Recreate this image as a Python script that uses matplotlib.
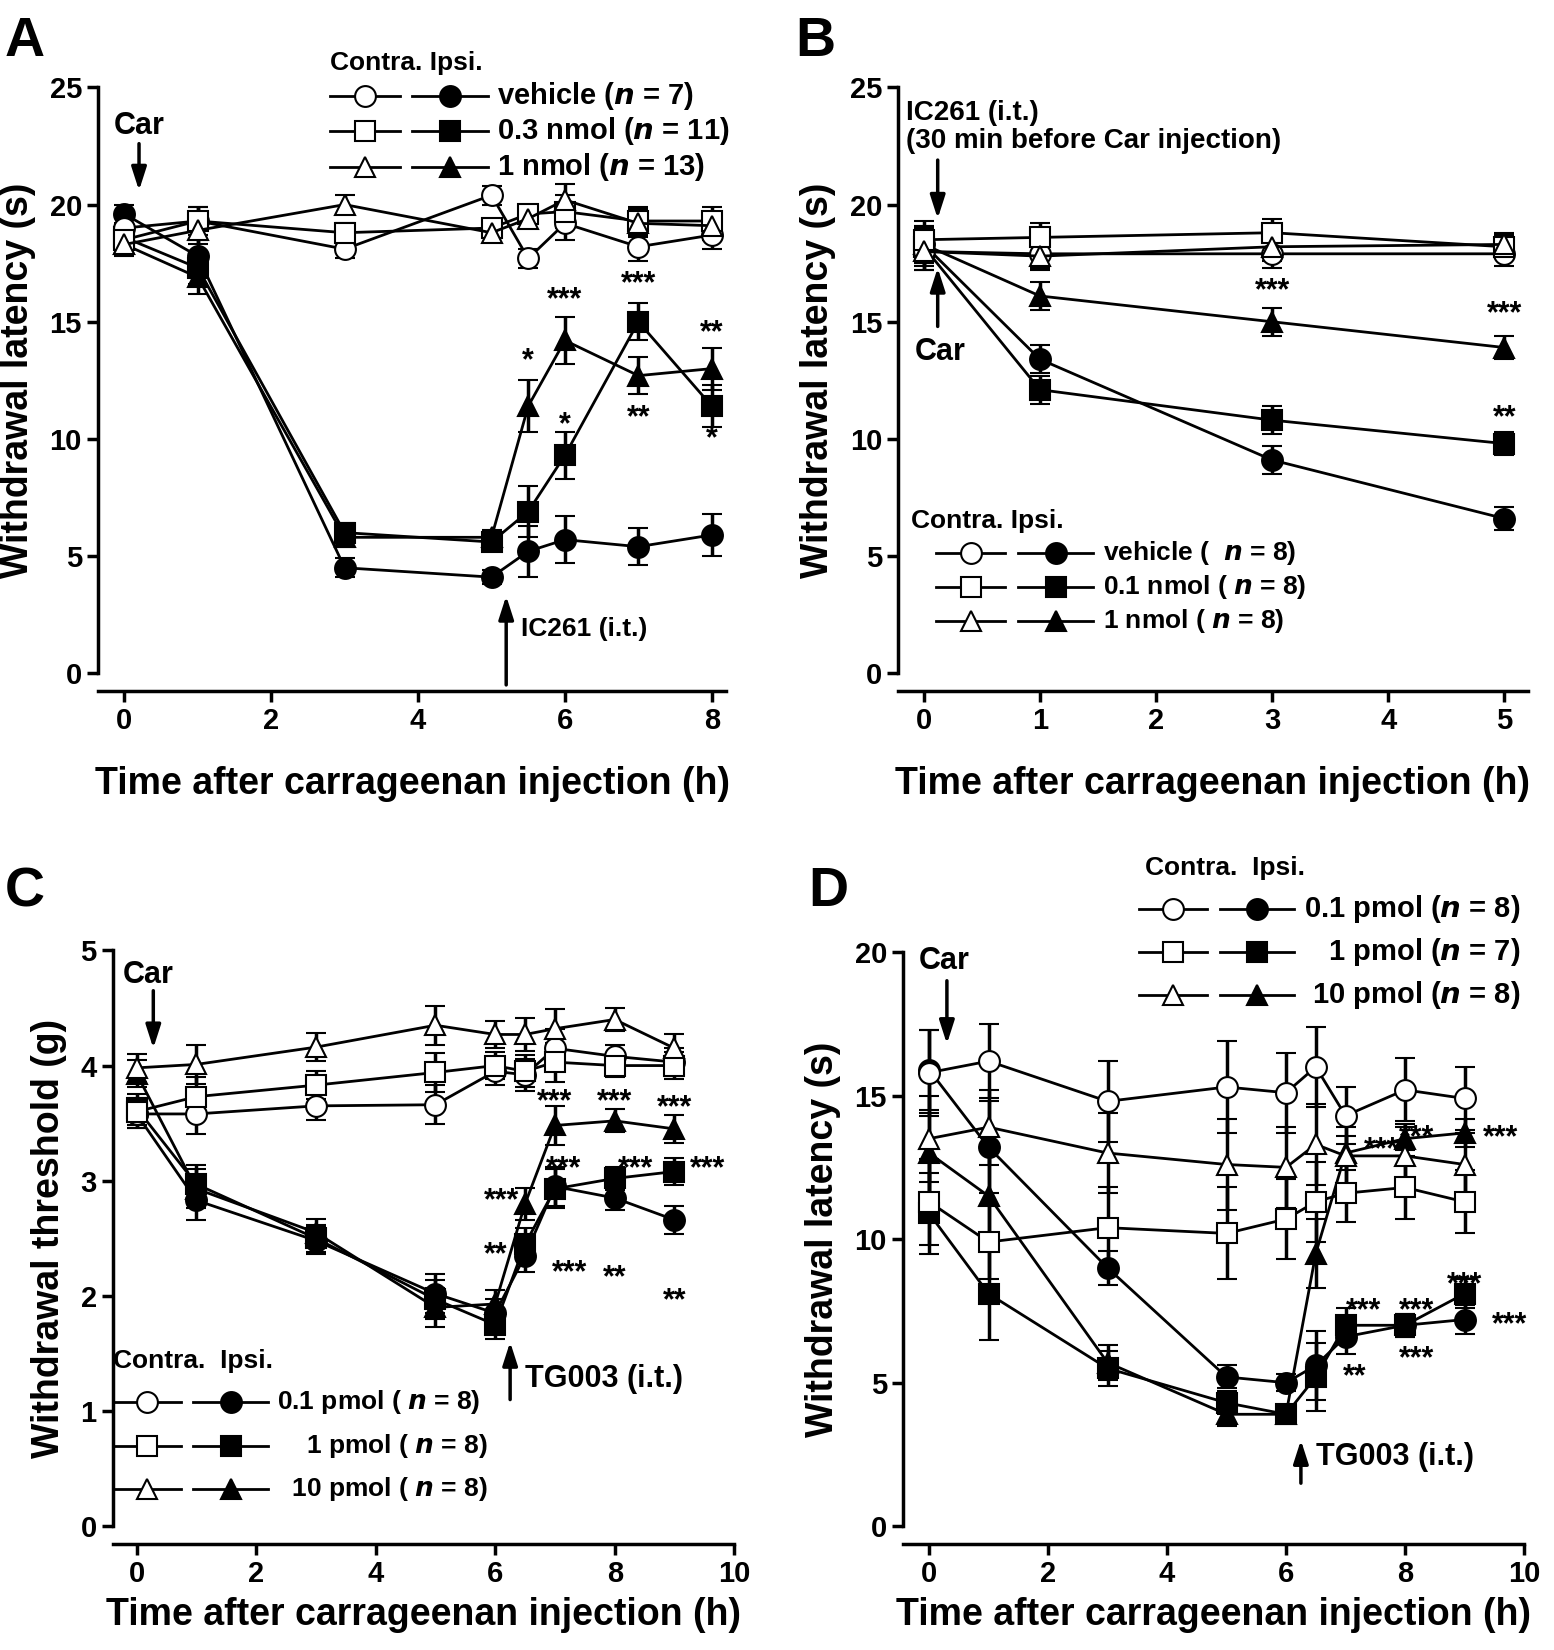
import matplotlib
matplotlib.use("Agg")
import matplotlib.pyplot as plt
from matplotlib.lines import Line2D

plt.rcParams['font.family'] = ['Liberation Sans', 'DejaVu Sans']
plt.rcParams['font.weight'] = 'bold'

# ---------- data ----------
xA = [0, 1, 3, 5, 5.5, 6, 7, 8]
A_veh_c = [19.0, 19.3, 18.1, 20.4, 17.7, 19.2, 18.2, 18.7]
A_03_c = [18.5, 19.3, 18.8, 19.0, 19.6, 19.7, 19.3, 19.3]
A_1_c = [18.3, 18.9, 20.0, 18.8, 19.4, 20.2, 19.2, 19.1]
A_veh_i = [19.6, 17.8, 4.5, 4.1, 5.2, 5.7, 5.4, 5.9]
A_03_i = [18.6, 17.3, 6.0, 5.6, 6.9, 9.3, 15.0, 11.4]
A_1_i = [18.3, 16.9, 5.8, 5.8, 11.4, 14.2, 12.7, 13.0]
A_err_c = [0.5, 0.6, 0.4, 0.4, 0.4, 0.7, 0.6, 0.6]
A_err_i = [0.4, 0.7, 0.4, 0.3, 1.1, 1.0, 0.8, 0.9]

xB = [0, 1, 3, 5]
B_veh_c = [18.0, 17.9, 17.9, 17.9]
B_01_c = [18.5, 18.6, 18.8, 18.2]
B_1_c = [18.0, 17.8, 18.2, 18.3]
B_veh_i = [18.3, 13.4, 9.1, 6.6]
B_01_i = [18.2, 12.1, 10.8, 9.8]
B_1_i = [18.3, 16.1, 15.0, 13.9]
B_err = [0.8, 0.6, 0.6, 0.5]

xC = [0, 1, 3, 5, 6, 6.5, 7, 8, 9]
C_01_c = [3.58, 3.58, 3.65, 3.66, 3.95, 3.92, 4.15, 4.08, 4.03]
C_1_c = [3.60, 3.73, 3.83, 3.94, 4.00, 3.95, 4.03, 4.00, 4.00]
C_10_c = [3.98, 4.01, 4.16, 4.35, 4.27, 4.27, 4.32, 4.40, 4.15]
C_01_i = [3.58, 2.83, 2.48, 2.02, 1.85, 2.35, 2.95, 2.85, 2.66]
C_1_i = [3.63, 2.97, 2.50, 1.97, 1.75, 2.45, 2.93, 3.02, 3.08]
C_10_i = [3.93, 2.93, 2.55, 1.90, 1.93, 2.80, 3.48, 3.52, 3.45]
C_err = [0.12, 0.17, 0.12, 0.17, 0.12, 0.14, 0.17, 0.1, 0.12]

xD = [0, 1, 3, 5, 6, 6.5, 7, 8, 9]
D_01_c = [15.8, 16.2, 14.8, 15.3, 15.1, 16.0, 14.3, 15.2, 14.9]
D_1_c = [11.3, 9.9, 10.4, 10.2, 10.7, 11.3, 11.6, 11.8, 11.3]
D_10_c = [13.5, 13.9, 13.0, 12.6, 12.5, 13.3, 12.9, 12.9, 12.6]
D_01_i = [15.9, 13.2, 9.0, 5.2, 5.0, 5.6, 6.6, 7.0, 7.2]
D_1_i = [10.9, 8.1, 5.5, 4.3, 3.9, 5.2, 7.0, 7.0, 8.1]
D_10_i = [13.0, 11.5, 5.7, 3.9, 3.9, 9.5, 13.0, 13.5, 13.7]
D_err_c = [1.5, 1.3, 1.4, 1.6, 1.4, 1.4, 1.0, 1.1, 1.1]
D_err_i = [1.4, 1.6, 0.6, 0.4, 0.3, 1.2, 0.6, 0.4, 0.5]

fig = plt.figure(figsize=(15.54, 16.5), dpi=100)

def mk(ax, x, y, m, filled, err):
    ax.errorbar(x, y, yerr=err, fmt='-', marker=m, ms=15 if m != 's' else 14,
                mfc='black' if filled else 'white', mec='black', mew=1.5,
                color='black', lw=2, ecolor='black', elinewidth=2.5, capsize=7, capthick=2.5,
                zorder=3 if filled else 4)

def style(ax, xlim, ylim, xt, yt, ylabel, xlpad=22):
    ax.set_xlim(*xlim); ax.set_ylim(*ylim)
    ax.set_xticks(xt); ax.set_yticks(yt)
    for s in ['top', 'right']:
        ax.spines[s].set_visible(False)
    ax.spines['left'].set_linewidth(2.5)
    ax.spines['bottom'].set_linewidth(2.5)
    ax.spines['bottom'].set_position(('outward', 13))
    ax.tick_params(width=2.5, length=8, labelsize=21)
    for l in ax.get_xticklabels() + ax.get_yticklabels():
        l.set_fontweight('bold')
    ax.set_ylabel(ylabel, fontsize=27, fontweight='bold', labelpad=10)
    ax.set_xlabel('Time after carrageenan injection (h)', fontsize=27, fontweight='bold', labelpad=xlpad)

def legend(ax, x0, y0, dy, items, header_x, header, labels_x, fs=21):
    ax.text(header_x, y0 + dy * 0.95, header, transform=ax.transAxes, fontsize=19, fontweight='bold',
            va='center')
    for i, (m, lab) in enumerate(zip(items, labels_x)):
        y = y0 - i * dy
        for xs, f in [((x0, x0 + 0.11), False), ((x0 + 0.13, x0 + 0.25), True)]:
            ax.add_line(Line2D(xs, [y, y], transform=ax.transAxes, color='black', lw=2, clip_on=False))
            ax.add_line(Line2D([(xs[0] + xs[1]) / 2], [y], transform=ax.transAxes, marker=m, ms=15,
                               mfc='black' if f else 'white', mec='black', mew=1.5, clip_on=False))
        ax.text(x0 + 0.265, y, lab, transform=ax.transAxes, fontsize=fs, fontweight='bold', va='center')

def star(ax, x, y, s):
    ax.text(x, y, s, ha='center', va='center', fontsize=22, fontweight='bold')

def arrow(ax, x, ytip, ybase):
    ax.annotate('', xy=(x, ytip), xytext=(x, ybase), annotation_clip=False,
                arrowprops=dict(arrowstyle='-|>,head_width=0.45,head_length=1.4', lw=2.5,
                                color='black', shrinkA=0, shrinkB=0))

# ---------- A ----------
axA = fig.add_axes([0.063, 0.592, 0.4045, 0.355])
for y, m, f, e in [(A_veh_i, 'o', True, A_err_i), (A_03_i, 's', True, A_err_i), (A_1_i, '^', True, A_err_i),
                   (A_veh_c, 'o', False, A_err_c), (A_03_c, 's', False, A_err_c), (A_1_c, '^', False, A_err_c)]:
    mk(axA, xA, y, m, f, e)
style(axA, (-0.36, 8.2), (0, 25), [0, 2, 4, 6, 8], [0, 5, 10, 15, 20, 25], 'Withdrawal latency (s)')
legend(axA, 0.37, 0.985, 0.06, ['o', 's', '^'], 0.37, 'Contra. Ipsi.',
       ['vehicle ($\\it{n}$ = 7)', '0.3 nmol ($\\it{n}$ = 11)', '1 nmol ($\\it{n}$ = 13)'])
axA.text(0.2, 23.0, 'Car', ha='center', fontsize=22, fontweight='bold')
arrow(axA, 0.2, 20.6, 22.6)
arrow(axA, 5.2, 3.3, -0.5)
axA.text(5.4, 1.9, 'IC261 (i.t.)', fontsize=19, fontweight='bold', va='center')
for x, y, s in [(5.5, 13.3, '*'), (6.0, 15.9, '***'), (6.0, 10.6, '*'), (7.0, 16.6, '***'),
                (7.0, 10.9, '**'), (8.0, 14.5, '**'), (8.0, 10.0, '*')]:
    star(axA, x, y, s)
fig.text(0.003, 0.99, 'A', fontsize=40, fontweight='bold', va='top')

# ---------- B ----------
axB = fig.add_axes([0.578, 0.592, 0.405, 0.355])
for y, m, f in [(B_veh_i, 'o', True), (B_01_i, 's', True), (B_1_i, '^', True),
                (B_veh_c, 'o', False), (B_01_c, 's', False), (B_1_c, '^', False)]:
    mk(axB, xB, y, m, f, B_err)
style(axB, (-0.22, 5.2), (0, 25), [0, 1, 2, 3, 4, 5], [0, 5, 10, 15, 20, 25], 'Withdrawal latency (s)')
legend(axB, 0.06, 0.205, 0.058, ['o', 's', '^'], 0.02, 'Contra. Ipsi.',
       ['vehicle (  $\\it{n}$ = 8)', '0.1 nmol ( $\\it{n}$ = 8)', '1 nmol ( $\\it{n}$ = 8)'], fs=19)
axB.text(-0.15, 23.6, 'IC261 (i.t.)', fontsize=20, fontweight='bold')
axB.text(-0.15, 22.4, '(30 min before Car injection)', fontsize=20, fontweight='bold')
arrow(axB, 0.12, 19.4, 21.9)
arrow(axB, 0.12, 17.3, 14.8)
axB.text(-0.08, 13.7, 'Car', fontsize=22, fontweight='bold', va='center')
for x, y, s in [(3, 16.3, '***'), (5, 15.3, '***'), (5, 10.9, '**')]:
    star(axB, x, y, s)
fig.text(0.512, 0.99, 'B', fontsize=40, fontweight='bold', va='top')

# ---------- C ----------
axC = fig.add_axes([0.0725, 0.075, 0.40, 0.349])
for y, m, f in [(C_01_i, 'o', True), (C_1_i, 's', True), (C_10_i, '^', True),
                (C_01_c, 'o', False), (C_1_c, 's', False), (C_10_c, '^', False)]:
    mk(axC, xC, y, m, f, C_err)
style(axC, (-0.4, 10), (0, 5), [0, 2, 4, 6, 8, 10], [0, 1, 2, 3, 4, 5], 'Withdrawal threshold (g)', xlpad=6)
legend(axC, 0.0, 0.215, 0.075, ['o', 's', '^'], 0.0, 'Contra.  Ipsi.',
       ['0.1 pmol ( $\\it{n}$ = 8)', '    1 pmol ( $\\it{n}$ = 8)', '  10 pmol ( $\\it{n}$ = 8)'], fs=19)
axC.text(0.2, 4.72, 'Car', ha='center', fontsize=22, fontweight='bold')
arrow(axC, 0.28, 4.15, 4.65)
arrow(axC, 6.25, 1.6, 1.1)
axC.text(6.5, 1.28, 'TG003 (i.t.)', fontsize=22, fontweight='bold', va='center')
for x, y, s in [(7, 3.68, '***'), (8, 3.68, '***'), (9, 3.63, '***'),
                (6.1, 2.82, '***'), (7.15, 3.1, '***'), (8.35, 3.1, '***'), (9.55, 3.1, '***'),
                (6.0, 2.35, '**'), (7.25, 2.2, '***'), (8.0, 2.15, '**'), (9.0, 1.95, '**')]:
    star(axC, x, y, s)
fig.text(0.003, 0.475, 'C', fontsize=40, fontweight='bold', va='top')

# ---------- D ----------
axD = fig.add_axes([0.581, 0.075, 0.3997, 0.348])
for y, m, f, e in [(D_01_i, 'o', True, D_err_i), (D_1_i, 's', True, D_err_i), (D_10_i, '^', True, D_err_i),
                   (D_01_c, 'o', False, D_err_c), (D_1_c, 's', False, D_err_c), (D_10_c, '^', False, D_err_c)]:
    mk(axD, xD, y, m, f, e)
style(axD, (-0.44, 10), (0, 20), [0, 2, 4, 6, 8, 10], [0, 5, 10, 15, 20], 'Withdrawal latency (s)', xlpad=6)
legend(axD, 0.38, 1.075, 0.075, ['o', 's', '^'], 0.39, 'Contra.  Ipsi.',
       ['0.1 pmol ($\\it{n}$ = 8)', '   1 pmol ($\\it{n}$ = 7)', ' 10 pmol ($\\it{n}$ = 8)'])
axD.text(0.25, 19.4, 'Car', ha='center', fontsize=22, fontweight='bold')
arrow(axD, 0.3, 16.8, 19.0)
arrow(axD, 6.25, 3.0, 1.5)
axD.text(6.5, 2.4, 'TG003 (i.t.)', fontsize=22, fontweight='bold', va='center')
for x, y, s in [(7.6, 13.1, '***'), (8.2, 13.5, '***'), (9.6, 13.5, '***'),
                (9.0, 8.4, '***'), (7.3, 7.5, '***'), (8.2, 7.5, '***'),
                (7.15, 5.2, '**'), (8.2, 5.8, '***'), (9.75, 7.0, '***')]:
    star(axD, x, y, s)
fig.text(0.52, 0.475, 'D', fontsize=40, fontweight='bold', va='top')

fig.savefig('out.png', dpi=100)
